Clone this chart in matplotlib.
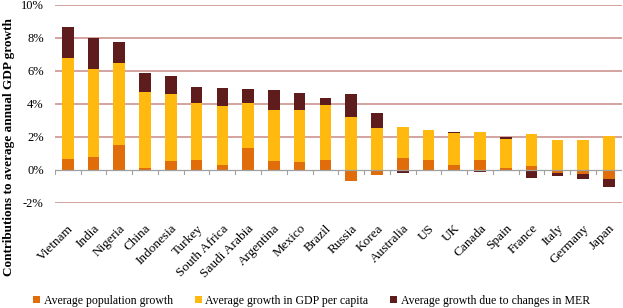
import numpy as np
import matplotlib
matplotlib.use("Agg")
import matplotlib.pyplot as plt
from matplotlib.ticker import FuncFormatter

countries = ["Vietnam", "India", "Nigeria", "China", "Indonesia", "Turkey",
             "South Africa", "Saudi Arabia", "Argentina", "Mexico", "Brazil",
             "Russia", "Korea", "Australia", "US", "UK", "Canada", "Spain",
             "France", "Italy", "Germany", "Japan"]

# contributions in percentage points
pop_growth = [0.69, 0.79, 1.51, 0.10, 0.56, 0.62, 0.32, 1.33, 0.56, 0.48, 0.60,
              -0.69, -0.32, 0.71, 0.60, 0.28, 0.62, 0.10, 0.26, -0.20, -0.24, -0.54]
gdp_per_cap = [6.12, 5.30, 4.96, 4.62, 4.04, 3.41, 3.55, 2.70, 3.05, 3.13, 3.31,
               3.23, 2.54, 1.91, 1.82, 1.94, 1.68, 1.77, 1.94, 1.83, 1.83, 2.06]
mer_change = [1.88, 1.89, 1.31, 1.15, 1.09, 0.97, 1.09, 0.89, 1.23, 1.05, 0.47,
              1.37, 0.89, -0.20, 0.00, 0.10, -0.10, 0.11, -0.50, -0.18, -0.30, -0.48]

series = [("Average population growth", pop_growth, "#E06C0A"),
          ("Average growth in GDP per capita", gdp_per_cap, "#FFB90F"),
          ("Average growth due to changes in MER", mer_change, "#5E1C1C")]

plt.rcParams['font.family'] = ['Liberation Serif', 'DejaVu Serif']

fig = plt.figure(figsize=(6.23, 3.08), dpi=100)
ax = fig.add_axes([0.088, 0.341, 0.91, 0.643])

x = np.arange(len(countries))
pos_base = np.zeros(len(countries))
neg_base = np.zeros(len(countries))
for name, vals, col in series:
    v = np.array(vals)
    bottoms = np.where(v >= 0, pos_base, neg_base)
    ax.bar(x, v, 0.45, bottom=bottoms, color=col, label=name, zorder=3)
    pos_base += np.where(v >= 0, v, 0)
    neg_base += np.where(v < 0, v, 0)

ax.set_ylim(-2, 10)
ax.set_xlim(-0.5, len(countries) - 0.5)
ax.set_yticks(np.arange(-2, 11, 2))
ax.yaxis.set_major_formatter(FuncFormatter(lambda v, p: f"{v:.0f}%"))
for g in [-2, 2, 4, 6, 8, 10]:
    ax.axhline(g, color="#C98A86", lw=1.1, zorder=1)
ax.axhline(0, color="#A0A0A0", lw=0.9, zorder=4)

for s in ax.spines.values():
    s.set_visible(False)
ax.tick_params(axis="y", length=0, labelsize=9, pad=8)

ax.set_xticks(x)
ax.set_xticklabels(countries, rotation=45, ha="right", rotation_mode="anchor",
                   fontsize=9.5)
ax.tick_params(axis="x", length=0, pad=14)
for b in np.arange(-0.5, len(countries), 1):
    ax.plot([b, b], [0, -0.22], color="#A0A0A0", lw=0.8, zorder=4)

fig.text(0.015, 0.523, "Contributions to average annual GDP growth", rotation=90,
         ha="center", va="center", fontsize=9.5, fontweight="bold")

handles, labels = ax.get_legend_handles_labels()
fig.legend(handles, labels, loc="lower center", ncol=3, frameon=False,
           fontsize=8.5, handlelength=0.6, handleheight=0.6, handletextpad=0.3,
           columnspacing=1.85, bbox_to_anchor=(0.5, -0.03))

fig.savefig("out.png", dpi=100)
